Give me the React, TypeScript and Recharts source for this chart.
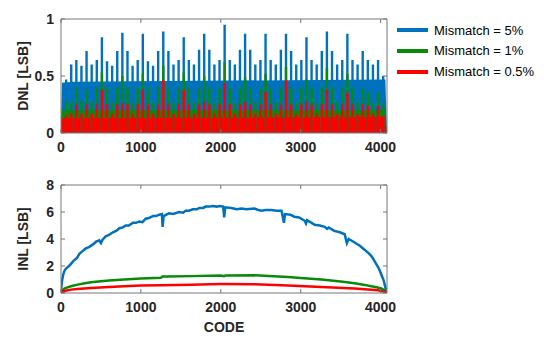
import { Area, ComposedChart, Line, XAxis, YAxis } from "recharts"

// codes where the DNL spikes sit
const spikeCodes = [
  64, 128, 192, 256, 320, 384, 448, 512, 576, 640, 704, 768, 832, 896, 960, 1024,
  1088, 1152, 1216, 1280, 1344, 1408, 1472, 1536, 1600, 1664, 1728, 1792, 1856, 1920, 1984, 2048,
  2112, 2176, 2240, 2304, 2368, 2432, 2496, 2560, 2624, 2688, 2752, 2816, 2880, 2944, 3008, 3072,
  3136, 3200, 3264, 3328, 3392, 3456, 3520, 3584, 3648, 3712, 3776, 3840, 3904, 3968, 4032,
]

const dnlSpikes5 = [
  0.47, 0.6, 0.64, 0.59, 0.72, 0.6, 0.64, 0.84,
  0.63, 0.59, 0.72, 0.88, 0.72, 0.59, 0.64, 0.87,
  0.63, 0.59, 0.72, 0.89, 0.72, 0.6, 0.64, 0.84,
  0.64, 0.6, 0.73, 0.87, 0.73, 0.6, 0.64, 0.95,
  0.64, 0.6, 0.73, 0.87, 0.73, 0.6, 0.64, 0.87,
  0.64, 0.6, 0.73, 0.87, 0.72, 0.6, 0.64, 0.84,
  0.64, 0.6, 0.72, 0.89, 0.72, 0.6, 0.64, 0.87,
  0.64, 0.6, 0.72, 0.64, 0.6, 0.64, 0.5,
]
const dnlSpikes1 = [
  0.28, 0.27, 0.4, 0.28, 0.38, 0.27, 0.4, 0.53,
  0.4, 0.27, 0.4, 0.5, 0.4, 0.27, 0.4, 0.52,
  0.4, 0.27, 0.41, 0.59, 0.4, 0.27, 0.4, 0.53,
  0.4, 0.27, 0.4, 0.5, 0.4, 0.27, 0.4, 0.62,
  0.4, 0.27, 0.4, 0.49, 0.4, 0.27, 0.4, 0.52,
  0.4, 0.27, 0.4, 0.58, 0.4, 0.27, 0.4, 0.47,
  0.4, 0.27, 0.4, 0.57, 0.4, 0.27, 0.4, 0.52,
  0.4, 0.27, 0.4, 0.36, 0.27, 0.36, 0.25,
]
const dnlSpikes05 = [
  0.16, 0.17, 0.25, 0.17, 0.25, 0.17, 0.25, 0.38,
  0.25, 0.17, 0.25, 0.26, 0.25, 0.17, 0.25, 0.38,
  0.25, 0.17, 0.25, 0.46, 0.25, 0.17, 0.25, 0.38,
  0.25, 0.17, 0.25, 0.27, 0.25, 0.17, 0.25, 0.44,
  0.25, 0.17, 0.25, 0.27, 0.25, 0.17, 0.25, 0.36,
  0.25, 0.17, 0.25, 0.46, 0.25, 0.17, 0.25, 0.27,
  0.25, 0.17, 0.25, 0.38, 0.25, 0.17, 0.25, 0.35,
  0.25, 0.17, 0.25, 0.24, 0.17, 0.24, 0.15,
]

// top of the dense noise band of each DNL trace
const bandCodes = [0, 12, 150, 4060, 4075]
const dnlBand5 = [0.08, 0.44, 0.45, 0.47, 0.1]
const dnlBand1 = [0.05, 0.2, 0.2, 0.2, 0.05]
const dnlBand05 = [0.03, 0.13, 0.13, 0.14, 0.03]

const inlCodes5 = [
  0, 10, 25, 40, 60, 80, 100, 130, 160, 200, 230, 270, 310, 350, 400, 440, 480, 500, 520, 560,
  600, 650, 690, 730, 770, 810, 850, 900, 940, 980, 1020, 1060, 1100, 1150, 1190, 1230, 1262, 1272, 1284, 1350,
  1400, 1480, 1530, 1560, 1600, 1650, 1700, 1730, 1780, 1810, 1860, 1900, 1950, 1980, 2030, 2042, 2056, 2130, 2200, 2260,
  2320, 2420, 2470, 2510, 2560, 2630, 2700, 2760, 2790, 2804, 2870, 2920, 2980, 3050, 3066, 3080, 3175, 3240, 3300, 3330,
  3350, 3420, 3490, 3550, 3578, 3600, 3660, 3700, 3740, 3780, 3820, 3850, 3890, 3920, 3950, 3980, 4000, 4020, 4040, 4060,
  4075,
]
const inl5 = [
  0.1, 0.8, 1.3, 1.6, 1.8, 1.9, 2.0, 2.2, 2.4, 2.6, 2.9, 3.1, 3.3, 3.4, 3.6, 3.8, 3.9, 3.7, 3.95, 4.2,
  4.3, 4.5, 4.6, 4.8, 4.85, 5.0, 5.0, 5.2, 5.2, 5.3, 5.25, 5.5, 5.55, 5.7, 5.7, 5.8, 5.85, 4.9, 5.7, 5.9,
  5.85, 6.0, 5.95, 6.1, 6.1, 6.2, 6.2, 6.3, 6.3, 6.4, 6.4, 6.45, 6.4, 6.45, 6.4, 5.6, 6.35, 6.3, 6.2, 6.25,
  6.2, 6.25, 6.15, 6.1, 6.15, 6.15, 6.1, 6.1, 5.2, 5.85, 5.8, 5.65, 5.6, 5.35, 5.15, 5.4, 5.05, 5.0, 4.9, 4.75,
  4.85, 4.6, 4.5, 4.35, 3.7, 4.0, 3.8, 3.65, 3.5, 3.3, 3.1, 2.95, 2.7, 2.4, 2.1, 1.8, 1.5, 1.2, 0.9, 0.4,
  0.05,
]
const inlCodes1 = [
  0, 20, 42, 80, 125, 208, 300, 375, 500, 600, 792, 1000, 1250, 1270, 1333, 1625,
  2000, 2040, 2060, 2425, 2842, 3000, 3258, 3500, 3675, 3800, 3883, 3950, 4008, 4050, 4075,
]
const inl1 = [
  0, 0.2, 0.32, 0.42, 0.5, 0.62, 0.72, 0.8, 0.87, 0.92, 1.0, 1.07, 1.13, 1.22, 1.23, 1.25,
  1.3, 1.25, 1.3, 1.31, 1.19, 1.12, 1.0, 0.85, 0.72, 0.6, 0.5, 0.42, 0.33, 0.2, 0.05,
]
const inlCodes05 = [0, 42, 125, 200, 375, 600, 792, 1000, 1250, 1625, 2000, 2425, 2842, 3258, 3675, 3967, 4040, 4075]
const inl05 = [0, 0.15, 0.25, 0.3, 0.37, 0.45, 0.5, 0.55, 0.57, 0.62, 0.66, 0.65, 0.55, 0.45, 0.33, 0.2, 0.1, 0.01]

const xTicks = [0, 1000, 2000, 3000, 4000]
const dnlTicks = [0, 0.5, 1]
const inlTicks = [0, 2, 4, 6, 8]
const legendNames = ["Mismatch = 5%", "Mismatch = 1%", "Mismatch = 0.5%"]

const X_MAX = 4080
const BLUE = "#0072bd"
const GREEN = "#0a8a0a"
const RED = "#ff0000"
const AXIS = "#767676"
const TEXT = "#262626"
const FONT = "'Liberation Sans', Arial, Helvetica, sans-serif"

const pairs = (xs, ys) => xs.map((code, i) => ({ code, v: ys[i] }))

// each spike is drawn as an up-and-down stroke at its code
const spikeRows = (values) => {
  const rows = []
  spikeCodes.forEach((code, i) => {
    rows.push({ code, v: 0 }, { code, v: values[i] }, { code, v: 0 })
  })
  return rows
}

const tickText = { fontFamily: FONT, fontWeight: 700, fontSize: 14 }

const BottomTick = ({ x, y, payload }) => (
  <g>
    <line x1={x} x2={x} y1={y} y2={y - 4} stroke={AXIS} />
    <text x={x} y={y + 19} textAnchor="middle" fill={TEXT} style={tickText}>
      {payload.value}
    </text>
  </g>
)

const LeftTick = ({ x, y, payload }) => (
  <g>
    <line x1={x} x2={x + 4} y1={y} y2={y} stroke={AXIS} />
    <text x={x - 7} y={y + 5} textAnchor="end" fill={TEXT} style={tickText}>
      {payload.value}
    </text>
  </g>
)

const TopTick = ({ x, y }) => <line x1={x} x2={x} y1={y} y2={y + 4} stroke={AXIS} />
const RightTick = ({ x, y }) => <line x1={x} x2={x - 4} y1={y} y2={y} stroke={AXIS} />

// the four sides of a MATLAB style box, ticks pointing inwards
const boxAxes = (yDomain, yTicks, yLabel, xHeight, xLabel) => [
  <XAxis
    key="xb"
    type="number"
    dataKey="code"
    height={xHeight}
    domain={[0, X_MAX]}
    allowDataOverflow
    ticks={xTicks}
    interval={0}
    tick={BottomTick}
    tickLine={false}
    tickSize={0}
    tickMargin={0}
    stroke={AXIS}
    label={
      xLabel
        ? {
            value: xLabel,
            position: "insideBottom",
            offset: 6,
            fill: TEXT,
            style: { fontFamily: FONT, fontWeight: 700, fontSize: 14 },
          }
        : undefined
    }
  />,
  <XAxis
    key="xt"
    xAxisId="top"
    orientation="top"
    type="number"
    dataKey="code"
    height={1}
    domain={[0, X_MAX]}
    allowDataOverflow
    ticks={xTicks}
    interval={0}
    tick={TopTick}
    tickLine={false}
    tickSize={0}
    tickMargin={0}
    stroke={AXIS}
  />,
  <YAxis
    key="yl"
    type="number"
    width={40}
    domain={yDomain}
    allowDataOverflow
    ticks={yTicks}
    interval={0}
    tick={LeftTick}
    tickLine={false}
    tickSize={0}
    tickMargin={0}
    stroke={AXIS}
    label={{
      value: yLabel,
      angle: -90,
      position: "insideLeft",
      offset: 2,
      fill: TEXT,
      style: { textAnchor: "middle", fontFamily: FONT, fontWeight: 700, fontSize: 14 },
    }}
  />,
  <YAxis
    key="yr"
    yAxisId="right"
    orientation="right"
    type="number"
    width={1}
    domain={yDomain}
    allowDataOverflow
    ticks={yTicks}
    interval={0}
    tick={RightTick}
    tickLine={false}
    tickSize={0}
    tickMargin={0}
    stroke={AXIS}
  />,
  // invisible series so the top and right axes get drawn
  <Line
    key="box"
    xAxisId="top"
    yAxisId="right"
    data={pairs(bandCodes, dnlBand05)}
    dataKey="v"
    stroke="none"
    dot={false}
    activeDot={false}
    legendType="none"
    isAnimationActive={false}
  />,
]

const series = [
  { name: legendNames[0], color: BLUE, band: dnlBand5, spikes: dnlSpikes5, inlCodes: inlCodes5, inl: inl5 },
  { name: legendNames[1], color: GREEN, band: dnlBand1, spikes: dnlSpikes1, inlCodes: inlCodes1, inl: inl1 },
  { name: legendNames[2], color: RED, band: dnlBand05, spikes: dnlSpikes05, inlCodes: inlCodes05, inl: inl05 },
]

export default function App() {
  return (
    <div style={{ position: "absolute", left: 0, top: 0, width: 550, height: 343, background: "#fff" }}>
      <div style={{ position: "absolute", left: 0, top: 0 }}>
        <ComposedChart width={550} height={165} margin={{ top: 18, right: 162, bottom: 2, left: 21 }}>
          {boxAxes([0, 1], dnlTicks, "DNL [LSB]", 30)}
          {series.flatMap((s) => [
            <Area
              key={s.name + "-band"}
              data={pairs(bandCodes, s.band)}
              dataKey="v"
              type="linear"
              stroke="none"
              fill={s.color}
              fillOpacity={1}
              baseValue={0}
              isAnimationActive={false}
            />,
            <Line
              key={s.name + "-spikes"}
              data={spikeRows(s.spikes)}
              dataKey="v"
              type="linear"
              stroke={s.color}
              strokeWidth={2.4}
              dot={false}
              activeDot={false}
              isAnimationActive={false}
            />,
          ])}
        </ComposedChart>
      </div>

      <div style={{ position: "absolute", left: 0, top: 165 }}>
        <ComposedChart width={550} height={178} margin={{ top: 19, right: 162, bottom: 5, left: 21 }}>
          {boxAxes([0, 8], inlTicks, "INL [LSB]", 45, "CODE")}
          {series.map((s) => (
            <Line
              key={s.name + "-inl"}
              data={pairs(s.inlCodes, s.inl)}
              dataKey="v"
              type="linear"
              stroke={s.color}
              strokeWidth={2.5}
              dot={false}
              activeDot={false}
              isAnimationActive={false}
            />
          ))}
        </ComposedChart>
      </div>

      {series.map((s, i) => (
        <div
          key={s.name}
          style={{
            position: "absolute",
            left: 397,
            top: 20 + i * 20.8,
            height: 20,
            display: "flex",
            alignItems: "center",
            fontFamily: FONT,
            fontSize: 13,
            color: "#000",
            whiteSpace: "nowrap",
          }}
        >
          <span style={{ display: "inline-block", width: 31, height: 4, background: s.color, marginRight: 6 }} />
          {s.name}
        </div>
      ))}
    </div>
  )
}
